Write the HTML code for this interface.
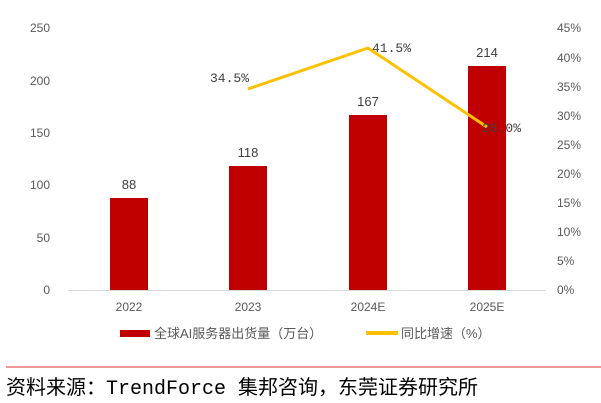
<!DOCTYPE html>
<html><head><meta charset="utf-8"><style>
body{margin:0;background:#fff;width:601px;height:403px;overflow:hidden;font-family:"Liberation Sans","Noto Sans CJK SC",sans-serif}
</style></head><body>
<svg width="601" height="403" xmlns="http://www.w3.org/2000/svg" style="position:absolute;left:0;top:0">
<g font-family="Liberation Sans, Noto Sans CJK SC, sans-serif" font-size="12" fill="#595959">
<g text-anchor="end">
<text x="50" y="294">0</text><text x="50" y="242">50</text><text x="50" y="189">100</text>
<text x="50" y="137">150</text><text x="50" y="85">200</text><text x="50" y="32">250</text>
</g>
<g text-anchor="start">
<text x="557" y="294">0%</text><text x="557" y="265">5%</text><text x="557" y="236">10%</text>
<text x="557" y="207">15%</text><text x="557" y="178">20%</text><text x="557" y="149">25%</text>
<text x="557" y="120">30%</text><text x="557" y="91">35%</text><text x="557" y="62">40%</text>
<text x="557" y="32">45%</text>
</g>
<line x1="68" y1="290.5" x2="546" y2="290.5" stroke="#d9d9d9"/>
<g fill="#c00000">
<rect x="110" y="198" width="38" height="92"/>
<rect x="229" y="166" width="38" height="124"/>
<rect x="349" y="115" width="38" height="175"/>
<rect x="468" y="66" width="38" height="224"/>
</g>
<g text-anchor="middle" font-size="13" fill="#404040">
<text x="129" y="189">88</text><text x="248" y="157">118</text>
<text x="368" y="106">167</text><text x="487" y="57">214</text>
</g>
<polyline points="248,89 368,48 487,127" fill="none" stroke="#ffc000" stroke-width="3"/>
<g font-size="13" fill="#404040" font-family="Liberation Mono, monospace">
<text x="210" y="82">34.5%</text><text x="372" y="52">41.5%</text><text x="482" y="132">28.0%</text>
</g>
<g text-anchor="middle" fill="#595959">
<text x="129" y="311">2022</text><text x="248" y="311">2023</text>
<text x="368" y="311">2024E</text><text x="487" y="311">2025E</text>
</g>
<rect x="120" y="330" width="30" height="7" fill="#c00000"/>
<text x="154" y="338" font-size="13">全球AI服务器出货量（万台）</text>
<rect x="366" y="331" width="32" height="4" fill="#ffc000"/>
<text x="401" y="338" font-size="13">同比增速（%）</text>
<line x1="6" y1="367" x2="601" y2="367" stroke="#e03030" stroke-width="1"/>
<text x="6" y="394" font-size="20" fill="#000" font-family="Liberation Mono, Noto Sans CJK SC, monospace">资料来源：TrendForce 集邦咨询，东莞证券研究所</text>
</g>
</svg>
</body></html>
